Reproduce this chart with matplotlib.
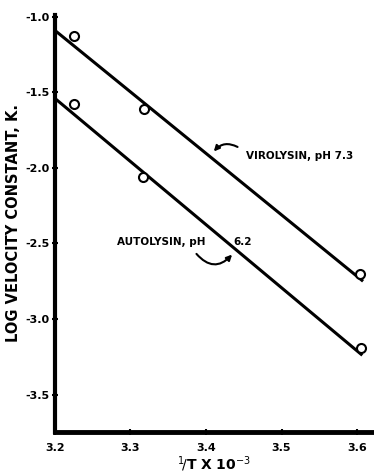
import matplotlib
matplotlib.use("Agg")
import matplotlib.pyplot as plt
import numpy as np

# data
viro_x = [3.225, 3.318, 3.604]
viro_y = [-1.13, -1.61, -2.70]
viro_line_x = [3.2, 3.608]
viro_line_y = [-1.09, -2.75]

auto_x = [3.225, 3.317, 3.605]
auto_y = [-1.58, -2.06, -3.19]
auto_line_x = [3.2, 3.607]
auto_line_y = [-1.54, -3.24]

xticks = [3.2, 3.3, 3.4, 3.5, 3.6]
xticklabels = ["3.2", "3.3", "3.4", "3.5", "3.6"]
yticks = [-1.0, -1.5, -2.0, -2.5, -3.0, -3.5]
yticklabels = ["-1.0", "-1.5", "-2.0", "-2.5", "-3.0", "-3.5"]

plt.rcParams['font.family'] = ['DejaVu Sans']
fig = plt.figure(figsize=(3.74, 4.74), dpi=100)
ax = fig.add_axes([0.147, 0.0886, 0.848, 0.88])

ax.plot(viro_line_x, viro_line_y, color='black', lw=2.2, solid_capstyle='butt')
ax.plot(auto_line_x, auto_line_y, color='black', lw=2.2, solid_capstyle='butt')
ax.plot(viro_x, viro_y, 'o', mfc='white', mec='black', mew=1.5, ms=6.5)
ax.plot(auto_x, auto_y, 'o', mfc='white', mec='black', mew=1.5, ms=6.5)

ax.set_xlim(3.2, 3.62)
ax.set_ylim(-3.748, -0.987)
ax.set_xticks(xticks)
ax.set_xticklabels(xticklabels, fontsize=8, fontweight='bold', family='DejaVu Sans Condensed')
ax.set_yticks(yticks)
ax.set_yticklabels(yticklabels, fontsize=8, fontweight='bold', family='DejaVu Sans Condensed')
ax.tick_params(axis='both', direction='inout', length=4, width=1.5)
ax.tick_params(axis='x', pad=6)
ax.tick_params(axis='y', pad=2)

for s in ['top', 'right']:
    ax.spines[s].set_visible(False)
ax.spines['left'].set_linewidth(3)
ax.spines['bottom'].set_linewidth(3.5)

ax.set_ylabel("LOG VELOCITY CONSTANT, K.", fontsize=10.5, fontweight='bold', labelpad=3)
ax.set_xlabel(r"$^{1}\!/$T X 10$^{-3}$", fontsize=10, fontweight='bold', labelpad=1)

ax.text(3.453, -1.92, "VIROLYSIN, pH 7.3", fontsize=7.5, fontweight='bold',
        family='DejaVu Sans Condensed', va='center', ha='left')
ax.annotate("", xy=(3.408, -1.905), xytext=(3.445, -1.87),
            arrowprops=dict(arrowstyle='-|>', color='black', lw=1.5,
                            connectionstyle='arc3,rad=0.45', mutation_scale=8))

ax.text(3.282, -2.49, "AUTOLYSIN, pH", fontsize=7.5, fontweight='bold',
        family='DejaVu Sans Condensed', va='center', ha='left')
ax.text(3.436, -2.49, "6.2", fontsize=7.5, fontweight='bold',
        family='DejaVu Sans Condensed', va='center', ha='left')
ax.annotate("", xy=(3.437, -2.56), xytext=(3.385, -2.555),
            arrowprops=dict(arrowstyle='-|>', color='black', lw=1.5,
                            connectionstyle='arc3,rad=0.6', mutation_scale=8))

fig.savefig("out.png", dpi=100)
